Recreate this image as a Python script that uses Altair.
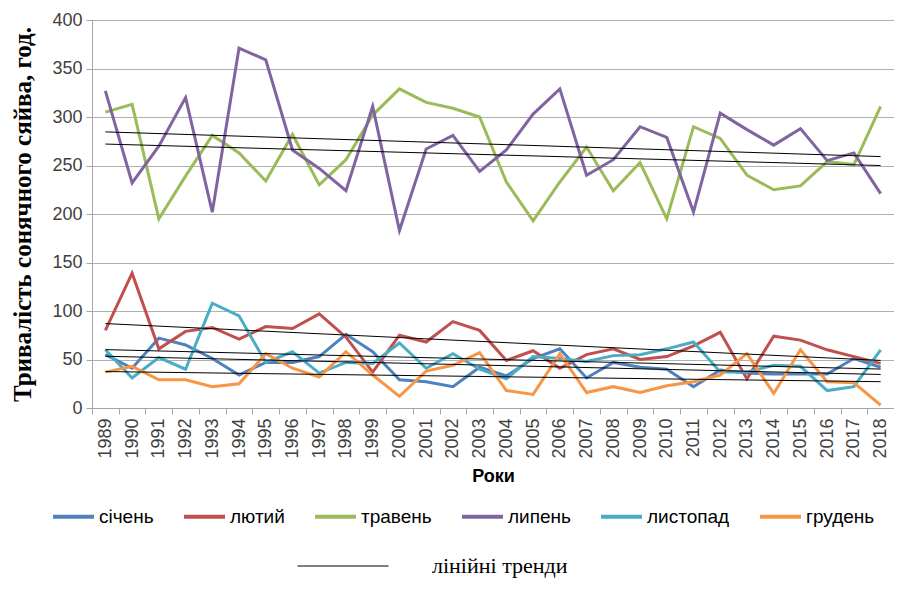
import altair as alt
import pandas as pd

years = list(range(1989, 2019))
months = ["січень", "лютий", "травень", "липень", "листопад", "грудень"]
colors = ["#4F81BD", "#C0504D", "#9BBB59", "#8064A2", "#4BACC6", "#F79646"]

sichen = [55, 41, 72, 65, 51, 34, 47, 47, 53, 76, 58, 29, 27, 22, 42,
          33, 51, 61, 31, 47, 42, 40, 22, 39, 36, 35, 35, 35, 51, 42]
lyutyi = [80, 139, 61, 79, 83, 71, 84, 82, 97, 73, 37, 75, 68, 89, 80,
          49, 59, 41, 55, 61, 50, 53, 64, 78, 30, 74, 70, 60, 53, 46]
traven = [305, 313, 195, 239, 281, 263, 234, 282, 230, 256, 302, 329, 315, 309, 300,
          233, 193, 233, 269, 224, 253, 195, 290, 278, 240, 225, 229, 254, 251, 311]
lypen = [327, 232, 270, 320, 202, 371, 359, 266, 247, 224, 311, 183, 267, 281, 244,
         266, 303, 329, 240, 256, 290, 279, 202, 304, 287, 271, 288, 255, 263, 221]
lystopad = [60, 31, 52, 40, 108, 95, 47, 58, 36, 47, 46, 67, 41, 56, 40,
            30, 53, 51, 48, 54, 55, 61, 68, 37, 37, 44, 43, 18, 22, 60]
hruden = [37, 43, 29, 29, 22, 25, 56, 41, 32, 58, 34, 12, 38, 44, 57,
          18, 14, 56, 16, 22, 16, 23, 27, 34, 56, 15, 60, 27, 26, 3]

series = [sichen, lyutyi, traven, lypen, lystopad, hruden]
rows = []
for m, vals in zip(months, series):
    for y, v in zip(years, vals):
        rows.append({"year": y, "value": v, "month": m})
df = pd.DataFrame(rows)

x_enc = alt.X(
    "year:O",
    scale=alt.Scale(type="band", paddingInner=0, paddingOuter=0),
    axis=alt.Axis(
        title="Роки", titleFont="Liberation Sans", titleFontSize=18,
        titleFontWeight="bold", titleColor="#000000", titlePadding=9,
        labelAngle=270, labelFont="Liberation Sans", labelFontSize=18,
        labelColor="#404040", labelPadding=4, tickBand="extent",
        tickColor="#a6a6a6", domainColor="#a6a6a6", tickSize=6, grid=False,
    ),
)
y_enc = alt.Y(
    "value:Q",
    scale=alt.Scale(domain=[0, 400], nice=False),
    axis=alt.Axis(
        title="Тривалість  сонячного сяйва, год.", titleFont="Liberation Serif",
        titleFontSize=25, titleFontWeight="bold", titleColor="#000000",
        titlePadding=16, values=list(range(0, 401, 50)),
        labelFont="Liberation Sans", labelFontSize=18, labelColor="#404040",
        labelPadding=4, tickColor="#a6a6a6", domainColor="#a6a6a6", tickSize=6,
        grid=True, gridColor="#b0b0b0", gridWidth=1.2,
    ),
)

lines = alt.Chart(df).mark_line(strokeWidth=3).encode(
    x=x_enc,
    y=y_enc,
    color=alt.Color(
        "month:N", sort=months,
        scale=alt.Scale(domain=months, range=colors),
        legend=alt.Legend(
            orient="none", legendX=-41, legendY=474, direction="horizontal",
            title=None, symbolType="stroke", symbolSize=1681, symbolStrokeWidth=4,
            labelFont="Liberation Sans", labelFontSize=19, labelColor="#000000",
            labelOffset=3, columnPadding=22, padding=0,
        ),
    ),
)

trends = (
    alt.Chart(df)
    .transform_regression("year", "value", groupby=["month"])
    .transform_calculate(trend="'лінійні тренди'")
    .mark_line(strokeWidth=1)
    .encode(
        x="year:O",
        y="value:Q",
        detail="month:N",
        stroke=alt.Stroke(
            "trend:N",
            scale=alt.Scale(range=["#000000"]),
            legend=alt.Legend(
                orient="none", legendX=205, legendY=500, title=None,
                symbolType="stroke", symbolSize=8281, symbolStrokeWidth=1,
                labelFont="Liberation Serif", labelFontSize=22, labelColor="#000000",
                labelOffset=43, labelLimit=400, padding=0,
            ),
        ),
    )
)

chart = (
    alt.layer(lines, trends)
    .properties(
        width=802, height=388,
        autosize=alt.AutoSizeParams(type="none"),
        padding={"left": 84, "top": 12, "right": 0, "bottom": 173},
    )
    .configure_view(stroke=None)
    .configure(background="#ffffff")
)

chart.save("out.html", embed_options={"renderer": "svg", "actions": False})
